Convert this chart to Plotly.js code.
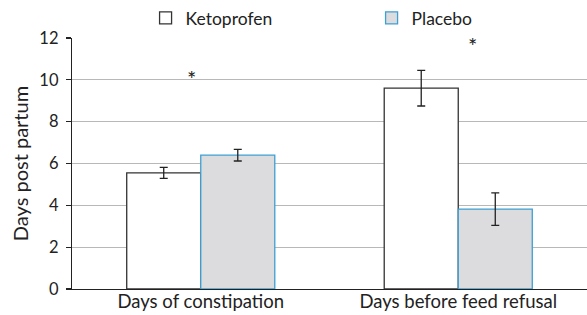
<!DOCTYPE html>
<html>
<head>
<meta charset="utf-8">
<script src="https://cdn.plot.ly/plotly-3.0.1.min.js"></script>
<style>html,body{margin:0;padding:0;background:#fff;}#chart{width:587px;height:315px;}</style>
</head>
<body>
<div id="chart"></div>
<script>
const categories = ["Days of constipation", "Days before feed refusal"];
const seriesNames = ["Ketoprofen", "Placebo"];
const ketoprofen = [5.55, 9.6];
const ketoprofenErr = [0.26, 0.85];
const placebo = [6.4, 3.82];
const placeboErr = [0.28, 0.78];
const starLabels = ["*", "*"];
const starValues = [10.05, 11.65];
const yTicks = [0, 2, 4, 6, 8, 10, 12];

const FONT = "Lato, 'Open Sans', sans-serif";
const TXT = "#222222";

const traces = [
  {
    type: "bar", name: seriesNames[0], x: categories, y: ketoprofen,
    marker: {color: "#ffffff", line: {color: "#333333", width: 1.3}},
    error_y: {type: "data", array: ketoprofenErr, visible: true, color: "#222222", thickness: 1.3, width: 4}
  },
  {
    type: "bar", name: seriesNames[1], x: categories, y: placebo,
    marker: {color: "#dcdcde", line: {color: "#3d9fd3", width: 1.3}},
    error_y: {type: "data", array: placeboErr, visible: true, color: "#222222", thickness: 1.3, width: 4}
  }
];

const annotations = categories.map((c, i) => ({
  x: c, y: starValues[i], xref: "x", yref: "y", text: starLabels[i], showarrow: false,
  xshift: i === 0 ? -9 : 14, font: {family: FONT, size: 22, color: TXT}
}));

const layout = {
  width: 587, height: 315,
  margin: {l: 72, r: 0, t: 38, b: 26, pad: 0, autoexpand: false},
  paper_bgcolor: "#ffffff", plot_bgcolor: "#ffffff",
  font: {family: FONT, color: TXT, size: 15},
  barmode: "group", bargap: 0.425, bargroupgap: 0,
  showlegend: true,
  legend: {
    orientation: "h", xref: "container", yref: "container",
    x: 0.248, xanchor: "left", y: 1.0, yanchor: "top",
    font: {family: FONT, size: 17.5, color: TXT},
    entrywidth: 181, itemwidth: 30, tracegroupgap: 0, bgcolor: "rgba(0,0,0,0)"
  },
  xaxis: {
    type: "category", showline: true, linecolor: "#222222", linewidth: 1.2,
    ticks: "", ticklen: 0, ticklabelstandoff: -4,
    tickfont: {family: FONT, size: 18.5, color: TXT}, showgrid: false,
    zeroline: false, fixedrange: true, automargin: false
  },
  yaxis: {
    range: [0, 12], tickvals: yTicks, ticktext: yTicks.map(String),
    showline: true, linecolor: "#222222", linewidth: 1.2,
    ticks: "outside", ticklen: 5, tickcolor: "#222222", tickwidth: 1.2,
    showgrid: true, gridcolor: "#b8b8b8", gridwidth: 1.3, zeroline: false,
    tickfont: {family: FONT, size: 16.5, color: TXT}, ticklabelstandoff: 4,
    automargin: false,
    title: {text: "Days post partum", font: {family: FONT, size: 20, color: TXT}, standoff: 5}
  },
  annotations: annotations
};

Plotly.newPlot("chart", traces, layout, {displayModeBar: false, staticPlot: true});
</script>
</body>
</html>
